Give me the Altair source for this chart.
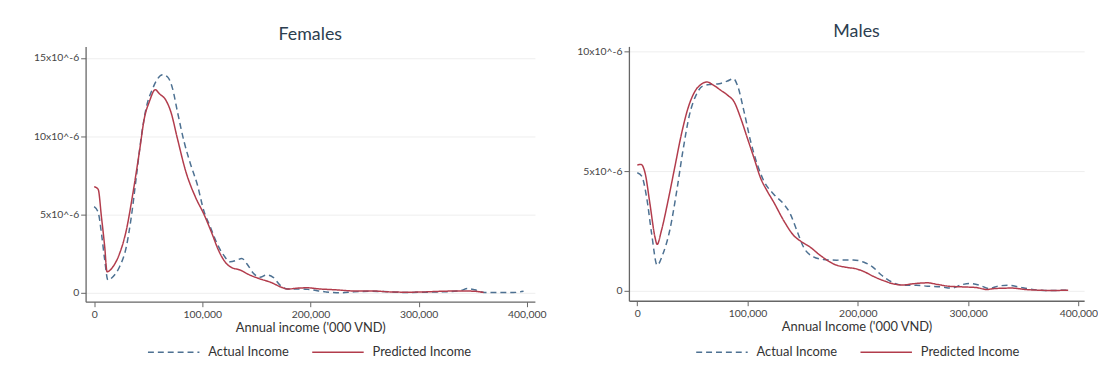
import altair as alt
import pandas as pd

# Kernel density of annual income ('000 VND); densities are in units of 1e-6
SERIES = ["Actual Income", "Predicted Income"]
COLORS = ["#4d7192", "#b23c4c"]
DASHES = [[6, 4], [1, 0]]

fem_actual_x = [0, 3700, 6800, 9800, 12700, 17400, 23500, 29700, 34300, 38900, 43400, 48000,
                54100, 58700, 63300, 67900, 72500, 77000, 83100, 89200, 95300, 101400, 107500,
                113600, 119700, 125800, 131900, 136500, 141000, 147200, 153300, 159400, 165500,
                171600, 179000, 188000, 197500, 214000, 227000, 240000, 257000, 273000, 290000,
                306000, 322000, 339000, 345000, 352000, 361000, 371000, 387600, 397000]
fem_actual_y = [5.49, 5.13, 3.76, 2.07, 0.80, 1.01, 1.65, 2.91, 4.81, 7.34, 9.87, 11.77,
                13.04, 13.67, 13.92, 13.78, 13.04, 11.56, 9.66, 8.19, 6.92, 5.23, 4.18,
                3.13, 2.39, 1.96, 2.07, 2.18, 1.86, 1.23, 0.97, 1.12, 0.97,
                0.49, 0.22, 0.23, 0.20, 0.04, -0.02, 0.04, 0.08, 0.04, 0.0,
                0.02, 0.04, 0.13, 0.25, 0.17, 0.0, 0.0, 0.0, 0.08]

fem_pred_x = [0, 3700, 6800, 9800, 11900, 17400, 23500, 29700, 35700, 41900, 46400, 51000,
              56500, 60200, 66300, 70900, 76900, 84600, 93800, 101400, 109000, 115000, 121000,
              127000, 135000, 142600, 151700, 164000, 173000, 179000, 188000, 197500, 208000,
              224000, 240000, 257000, 273000, 290000, 306000, 322000, 339000, 352000, 360000]
fem_pred_y = [6.77, 6.60, 4.80, 2.90, 1.33, 1.65, 2.49, 3.97, 6.29, 9.03, 11.14, 12.20,
              12.97, 12.72, 12.30, 11.56, 9.87, 7.77, 6.08, 5.02, 3.76, 2.70, 1.96,
              1.60, 1.44, 1.16, 0.91, 0.63, 0.34, 0.22, 0.28, 0.30, 0.23,
              0.17, 0.10, 0.10, 0.04, 0.02, 0.04, 0.08, 0.10, 0.08, 0.0]

male_actual_x = [0, 4000, 8500, 13000, 18000, 23400, 29400, 35300, 41300, 47300, 53300, 59300,
                 65300, 74300, 81800, 87200, 90800, 96800, 102800, 108800, 114700, 123700,
                 132700, 138700, 144700, 150700, 159700, 168600, 180600, 195800, 205000,
                 213000, 221000, 231000, 240600, 253000, 263000, 275700, 285000, 294900,
                 301000, 310900, 319000, 327000, 336600, 345700, 355000, 371600, 390700]
male_actual_y = [4.93, 4.79, 3.89, 2.38, 1.06, 1.55, 2.51, 4.03, 5.83, 7.35, 8.18, 8.56,
                 8.62, 8.66, 8.77, 8.87, 8.59, 7.49, 6.24, 5.28, 4.59, 4.03,
                 3.62, 3.21, 2.51, 1.82, 1.41, 1.30, 1.27, 1.28, 1.19,
                 1.00, 0.66, 0.35, 0.22, 0.22, 0.18, 0.15, 0.10, 0.25,
                 0.29, 0.21, 0.08, 0.18, 0.22, 0.15, 0.07, 0.0, 0.01]

male_pred_x = [0, 3400, 7000, 11500, 16000, 18000, 21900, 27900, 33900, 39900, 45900, 51900,
               57800, 63200, 68300, 75800, 81800, 87800, 93800, 99800, 105800, 111700, 117700,
               123800, 132700, 141700, 149200, 156600, 165600, 180600, 189500, 199000, 205000,
               215000, 224600, 231000, 240600, 250000, 263000, 272500, 282000, 294900, 307700,
               317000, 323600, 339600, 352000, 365000, 374800, 390700]
male_pred_y = [5.25, 5.28, 4.93, 3.62, 2.24, 1.93, 2.51, 3.76, 5.14, 6.52, 7.62, 8.31,
               8.63, 8.73, 8.62, 8.38, 8.18, 7.90, 7.21, 6.38, 5.55, 4.72, 4.17,
               3.69, 2.93, 2.31, 2.03, 1.82, 1.48, 1.06, 0.97, 0.90, 0.80,
               0.57, 0.39, 0.29, 0.23, 0.28, 0.32, 0.25, 0.18, 0.15, 0.12,
               0.04, 0.08, 0.10, 0.04, 0.01, 0.0, 0.01]

X_TICKS = [0, 100000, 200000, 300000, 400000]


def frame(actual_x, actual_y, pred_x, pred_y):
    a = pd.DataFrame({"income": actual_x, "density": actual_y, "series": SERIES[0]})
    p = pd.DataFrame({"income": pred_x, "density": pred_y, "series": SERIES[1]})
    return pd.concat([a, p], ignore_index=True)


def panel(df, title, x_title, x_domain, y_domain, y_ticks, w, h, title_offset, leg_x, leg_y):
    legend = alt.Legend(title=None, orient="none", legendX=leg_x, legendY=leg_y,
                        direction="horizontal")
    return alt.Chart(df).mark_line(strokeWidth=1.5, interpolate="monotone", clip=True).encode(
        x=alt.X("income:Q",
                scale=alt.Scale(domain=x_domain, nice=False, zero=False),
                axis=alt.Axis(values=X_TICKS, format=",d", title=x_title, grid=False)),
        y=alt.Y("density:Q",
                scale=alt.Scale(domain=y_domain, nice=False, zero=False),
                axis=alt.Axis(values=y_ticks, title=None, grid=True,
                              labelExpr="datum.value == 0 ? '0' : datum.value + 'x10^-6'")),
        color=alt.Color("series:N", scale=alt.Scale(domain=SERIES, range=COLORS), legend=legend),
        strokeDash=alt.StrokeDash("series:N", scale=alt.Scale(domain=SERIES, range=DASHES),
                                  legend=legend),
        detail="series:N",
    ).properties(
        width=w, height=h,
        title=alt.Title(title, offset=title_offset, frame="group", anchor="middle"),
    )


females = panel(frame(fem_actual_x, fem_actual_y, fem_pred_x, fem_pred_y),
                "Females", "Annual income ('000 VND)",
                [-7900, 407500], [-0.59, 15.74], [0, 5, 10, 15],
                454, 258, 2, 62, 282)
males = panel(frame(male_actual_x, male_actual_y, male_pred_x, male_pred_y),
              "Males", "Annual Income ('000 VND)",
              [-7600, 405200], [-0.43, 10.22], [0, 5, 10],
              460, 257, 5, 67, 282)

chart = alt.hconcat(females, males, spacing=95, bounds="flush").resolve_scale(
    color="independent", strokeDash="independent"
).resolve_legend(
    color="independent", strokeDash="independent"
).properties(
    padding={"left": 33.5, "top": 22, "right": 0, "bottom": 0},
    background="white",
).configure_view(
    stroke=None
).configure_axis(
    domainColor="#666666", domainWidth=1.3, tickColor="#666666", tickSize=5,
    labelFont="Lato", labelFontSize=10.5, labelColor="#444444",
    titleFont="Lato", titleFontSize=13, titleFontWeight="normal", titleColor="#333333",
    gridColor="#eeeeee", gridWidth=1,
).configure_axisX(
    labelPadding=3, titlePadding=2
).configure_axisY(
    labelPadding=2
).configure_title(
    font="Lato", fontSize=18, fontWeight="normal", color="#2c3e50"
).configure_legend(
    labelFont="Lato", labelFontSize=13, labelColor="#333333",
    symbolSize=2704, symbolStrokeWidth=1.5, symbolType="stroke",
    columnPadding=20, labelOffset=8,
)

chart.save("out.html", embed_options={"renderer": "svg", "actions": False})
